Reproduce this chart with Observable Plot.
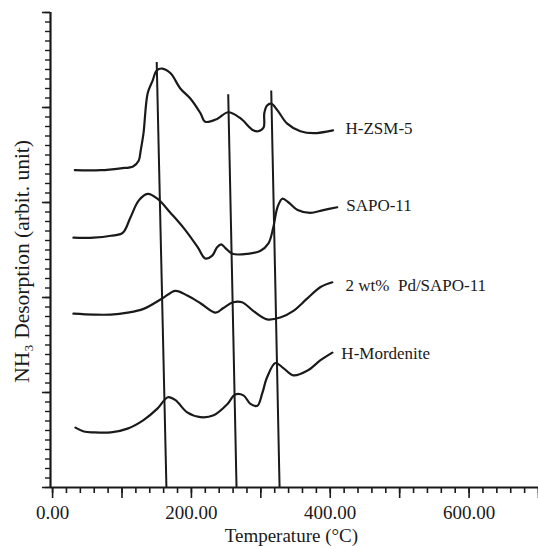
<!DOCTYPE html>
<html>
<head>
<meta charset="utf-8">
<script src="https://cdn.jsdelivr.net/npm/d3@7"></script>
<script src="https://cdn.jsdelivr.net/npm/@observablehq/plot@0.6"></script>
<style>
  html, body { margin: 0; padding: 0; background: #fff; }
</style>
</head>
<body>
<div id="chart"></div>
<script>
// Temperature (°C) and NH3 desorption signal (arbitrary units, stacked offsets as drawn)
const hzsm5T = [32, 69, 98, 116, 124, 127, 131, 137, 144, 150, 158, 170, 184, 199, 213, 220, 237, 253, 270, 289, 296, 304, 305, 309, 315, 324, 338, 357, 376, 404];
const hzsm5Y = [33.4, 33.4, 33.6, 33.8, 34.4, 35.5, 37.3, 41.5, 42.8, 43.9, 44.1, 43.6, 42.0, 40.9, 39.4, 38.5, 38.8, 39.5, 38.9, 37.6, 37.5, 37.9, 39.4, 40.2, 40.4, 39.7, 38.3, 37.5, 37.3, 37.6];

const sapoT = [30, 59, 84, 101, 112, 124, 137, 151, 170, 189, 209, 220, 230, 237, 243, 249, 259, 281, 299, 311, 318, 324, 331, 340, 353, 371, 390, 410];
const sapoY = [26.3, 26.3, 26.5, 26.8, 28.4, 30.2, 30.9, 30.4, 28.9, 27.3, 25.3, 24.1, 24.4, 25.3, 25.6, 25.2, 24.6, 24.6, 24.9, 25.7, 27.4, 29.5, 30.4, 30.0, 29.2, 28.9, 29.2, 29.5];

const pdSapoT = [30, 59, 84, 108, 131, 158, 177, 194, 213, 235, 246, 260, 273, 289, 309, 328, 347, 367, 386, 403];
const pdSapoY = [18.3, 18.2, 18.2, 18.4, 18.8, 19.9, 20.7, 20.2, 19.4, 18.4, 18.9, 19.5, 19.5, 18.6, 17.7, 17.9, 18.6, 19.9, 21.1, 21.6];

const mordT = [33, 45, 59, 84, 108, 131, 151, 166, 177, 194, 213, 232, 252, 263, 275, 285, 295, 302, 309, 321, 332, 347, 367, 386, 403];
const mordY = [6.3, 5.9, 5.8, 5.8, 6.2, 7.1, 8.3, 9.5, 9.2, 7.9, 7.4, 7.6, 8.8, 9.8, 9.7, 8.8, 8.6, 9.9, 11.6, 13.1, 12.6, 11.8, 12.3, 13.4, 14.2];

const seriesNames = ["H-ZSM-5", "SAPO-11", "2 wt%  Pd/SAPO-11", "H-Mordenite"];
const labelT = [422, 423, 422, 416];
const labelY = [37.8, 29.7, 21.3, 14.1];

// Hand-drawn reference lines through peak maxima (top point -> bottom point)
const refTopT = [150, 253, 315];
const refTopY = [44.8, 41.4, 41.8];
const refBotT = [164, 265, 327];

const xTickMajor = [0, 100, 200, 300, 400, 500, 600, 700];
const xTickLabeled = [0, 200, 400, 600];
const xLabel = "Temperature (°C)";
const yLabel = "NH₃ Desorption (arbit. unit)";

const allT = [hzsm5T, sapoT, pdSapoT, mordT];
const allY = [hzsm5Y, sapoY, pdSapoY, mordY];
const curves = [];
allT.forEach((ts, s) => ts.forEach((t, i) => curves.push({series: seriesNames[s], t, v: allY[s][i]})));
const labels = seriesNames.map((name, i) => ({name, t: labelT[i], v: labelY[i]}));
const refLines = refTopT.map((t, i) => ({t1: t, v1: refTopY[i], t2: refBotT[i], v2: 0}));

const font = "'Liberation Serif', 'Times New Roman', serif";

const chart = Plot.plot({
  width: 538,
  height: 546,
  marginLeft: 50,
  marginRight: 0,
  marginTop: 12,
  marginBottom: 59,
  style: {fontFamily: font, background: "#fff", color: "#1a1a1a"},
  x: {domain: [-3, 700]},
  y: {domain: [0, 50]},
  marks: [
    // x axis: minor ticks every 20, major every 100, labels every 200
    Plot.axisX({ticks: d3.range(0, 701, 20), tickSize: 6, text: null, strokeWidth: 1.6, label: null}),
    Plot.axisX({ticks: xTickMajor, tickSize: 11, tickPadding: 7, strokeWidth: 1.6,
      tickFormat: d => xTickLabeled.includes(d) ? d.toFixed(2) : "",
      fontSize: 19, label: null}),
    // y axis: minor ticks every unit, major every 10
    Plot.axisY({ticks: d3.range(0, 51, 1), tickSize: 5, text: null, strokeWidth: 1.4, label: null}),
    Plot.axisY({ticks: d3.range(0, 51, 10), tickSize: 8, text: null, strokeWidth: 1.6, label: null}),
    Plot.ruleX([-3], {stroke: "#1a1a1a", strokeWidth: 2.2}),
    Plot.ruleY([0], {stroke: "#1a1a1a", strokeWidth: 2.2}),
    // reference lines
    Plot.link(refLines, {x1: "t1", y1: "v1", x2: "t2", y2: "v2", stroke: "#1a1a1a", strokeWidth: 2}),
    // TPD curves
    Plot.line(curves, {x: "t", y: "v", z: "series", curve: "catmull-rom", stroke: "#1a1a1a", strokeWidth: 2.2}),
    // curve labels
    Plot.text(labels, {x: "t", y: "v", text: "name", textAnchor: "start", fontSize: 17, fill: "#1a1a1a"}),
    // axis titles
    Plot.text([xLabel], {x: () => 344, frameAnchor: "bottom", dy: 48, fontSize: 19, fill: "#1a1a1a", textAnchor: "middle", lineAnchor: "middle"}),
    Plot.text([yLabel], {y: () => 23.8, frameAnchor: "left", dx: -28, rotate: -90, fontSize: 21.5, fill: "#1a1a1a", textAnchor: "middle", lineAnchor: "middle"})
  ]
});
document.getElementById("chart").appendChild(chart);
</script>
</body>
</html>
